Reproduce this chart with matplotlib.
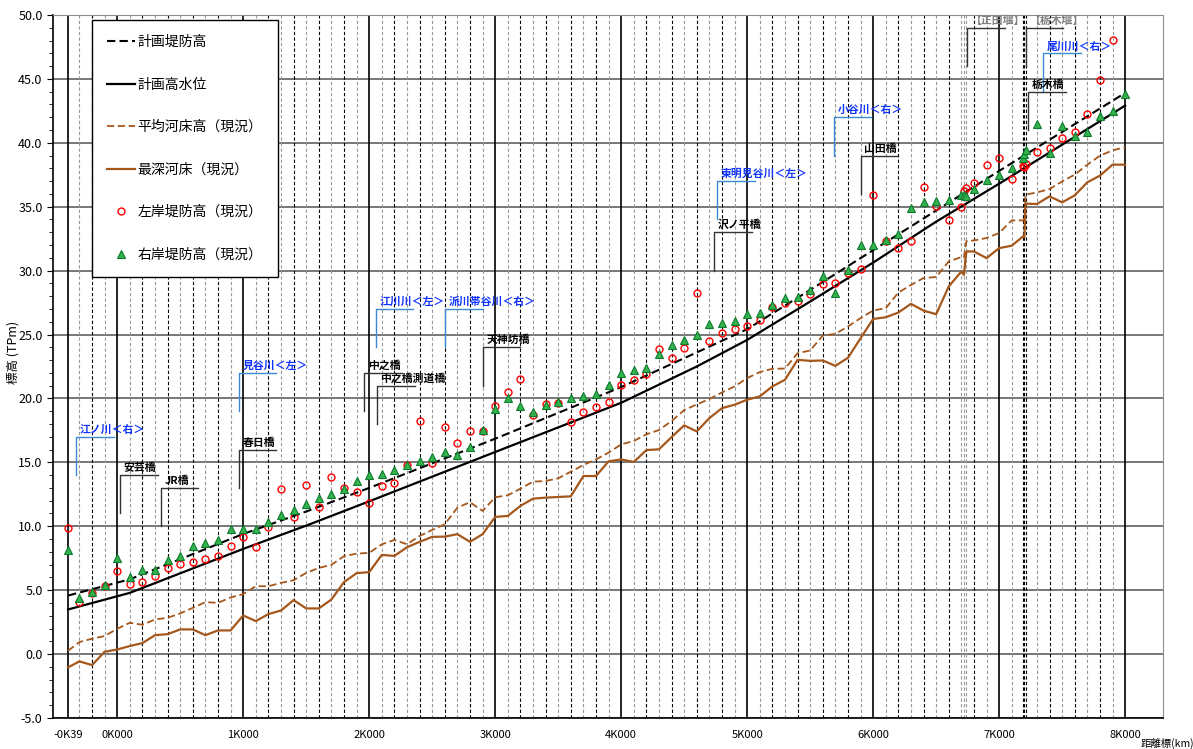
import numpy as np
import matplotlib.pyplot as plt

plt.rcParams['font.family'] = ['Noto Sans CJK JP', 'DejaVu Sans']

# cross-section distances (km)
dist = [-0.39, -0.3, -0.2, -0.1,
        0.0, 0.1, 0.2, 0.3, 0.4, 0.5, 0.6, 0.7, 0.8, 0.9,
        1.0, 1.1, 1.2, 1.3, 1.4, 1.5, 1.6, 1.7, 1.8, 1.9,
        2.0, 2.1, 2.2, 2.3, 2.4, 2.5, 2.6, 2.7, 2.8, 2.9,
        3.0, 3.1, 3.2, 3.3, 3.4, 3.5, 3.6, 3.7, 3.8, 3.9,
        4.0, 4.1, 4.2, 4.3, 4.4, 4.5, 4.6, 4.7, 4.8, 4.9,
        5.0, 5.1, 5.2, 5.3, 5.4, 5.5, 5.6, 5.7, 5.8, 5.9,
        6.0, 6.1, 6.2, 6.3, 6.4, 6.5, 6.6, 6.7, 6.72, 6.74, 6.8, 6.9,
        7.0, 7.1, 7.19, 7.2, 7.21, 7.3, 7.4, 7.5, 7.6, 7.7, 7.8, 7.9,
        8.0]

# 左岸堤防高（現況）
left_bank = [9.90, 4.11, 4.74, 5.29,
             6.48, 5.52, 5.63, 6.09, 6.74, 7.08, 7.21, 7.45, 7.68, 8.46,
             9.19, 8.36, 9.95, 12.92, 10.70, 13.23, 11.48, 13.83, 13.00, 12.68,
             11.80, 13.18, 13.39, 14.79, 18.26, 14.97, 17.79, 16.51, 17.47, 17.47,
             19.40, 20.49, 21.56, 18.67, 19.58, 19.66, 18.15, 18.96, 19.35, 19.69,
             21.09, 21.46, 21.90, 23.83, 23.13, 23.96, 28.28, 24.53, 25.10, 25.44,
             25.68, 26.17, 27.19, 27.45, 27.66, 28.18, 28.93, 29.06, 29.79, 30.16,
             35.91, 32.34, 31.74, 32.32, 36.55, 35.06, 33.96, 35.00, 36.20, 36.50, 36.85, 38.29,
             38.81, 37.17, 38.17, 38.12, 38.34, 39.28, 39.60, 40.38, 40.85, 42.28, 44.95, 48.08,
             np.nan]

# 右岸堤防高（現況）
right_bank = [8.15, 4.38, 4.87, 5.42,
              7.53, 6.04, 6.61, 6.56, 7.34, 7.71, 8.44, 8.67, 8.96, 9.82,
              9.82, 9.77, 10.34, 10.86, 11.30, 11.72, 12.19, 12.55, 12.92, 13.57,
              13.98, 14.11, 14.43, 14.77, 15.13, 15.42, 15.83, 15.57, 16.22, 17.50,
              19.14, 20.03, 19.40, 18.96, 19.48, 19.71, 20.00, 20.23, 20.36, 21.09,
              22.00, 22.24, 22.42, 23.49, 24.22, 24.56, 24.97, 25.83, 25.94, 26.07,
              26.61, 26.72, 27.34, 27.84, 27.97, 28.49, 29.58, 28.28, 30.05, 31.98,
              32.00, 32.40, 32.84, 34.92, 35.36, 35.47, 35.55, 35.89, 35.90, 35.85, 36.38, 37.06,
              37.51, 38.03, 38.80, 39.10, 39.40, 41.47, 39.20, 41.34, 40.51, 40.82, 42.08, 42.47,
              43.85]

# 平均河床高（現況）
mean_bed = [0.26, 0.94, 1.20, 1.41,
            1.98, 2.45, 2.29, 2.71, 2.84, 3.18, 3.62, 4.06, 4.01, 4.43,
            4.69, 5.31, 5.31, 5.57, 5.78, 6.35, 6.74, 6.98, 7.66, 7.86,
            7.92, 8.59, 8.93, 8.59, 9.24, 9.71, 10.16, 11.46, 11.88, 11.20,
            12.27, 12.42, 12.94, 13.49, 13.54, 13.75, 14.27, 14.79, 15.23, 15.76,
            16.41, 16.67, 17.19, 17.53, 18.23, 19.09, 19.53, 19.95, 20.47, 20.94,
            21.59, 22.06, 22.32, 22.34, 23.54, 23.75, 24.92, 25.05, 25.63, 26.28,
            26.88, 27.06, 28.28, 28.88, 29.42, 29.50, 30.72, 31.06, 31.00, 32.30, 32.36, 32.55,
            32.94, 33.93, 33.93, 34.00, 35.94, 36.12, 36.38, 36.98, 37.51, 38.29, 38.99, 39.41,
            39.65]

# 最深河床（現況）
deep_bed = [-1.04, -0.57, -0.86, 0.18,
            0.36, 0.63, 0.86, 1.48, 1.56, 1.93, 1.93, 1.48, 1.85, 1.85,
            3.02, 2.58, 3.13, 3.41, 4.22, 3.57, 3.57, 4.27, 5.63, 6.33,
            6.41, 7.76, 7.68, 8.36, 8.78, 9.17, 9.19, 9.38, 8.78, 9.38,
            10.73, 10.81, 11.59, 12.16, 12.24, 12.29, 12.34, 13.93, 13.93, 15.08,
            15.23, 15.03, 15.96, 16.02, 16.98, 17.89, 17.42, 18.46, 19.24, 19.51,
            19.90, 20.16, 20.94, 21.46, 23.02, 22.94, 22.97, 22.55, 23.18, 24.71,
            26.22, 26.35, 26.72, 27.40, 26.87, 26.59, 28.76, 29.93, 29.67, 31.50, 31.50, 30.98,
            31.76, 31.95, 32.68, 32.60, 35.24, 35.21, 35.81, 35.34, 35.89, 36.91, 37.43, 38.29,
            38.29]

# 計画高水位 / 計画堤防高 (break points)
plan_dist = [-0.39, 0.1, 1.0, 1.5, 2.0, 3.0, 4.0, 4.6, 5.0, 5.5, 6.0, 6.5, 7.0, 8.0]
plan_hwl = [3.49, 4.79, 8.23, 10.05, 11.95, 15.81, 19.66, 22.50, 24.58, 27.58, 30.63, 33.83, 36.80, 42.91]
plan_levee = [4.58, 5.85, 9.40, 11.15, 13.00, 16.85, 20.89, 23.60, 25.42, 28.49, 31.60, 34.70, 37.80, 43.90]

tick_pos = [-0.39, 0, 1, 2, 3, 4, 5, 6, 7, 8]
tick_txt = ['-0K39', '0K000', '1K000', '2K000', '3K000', '4K000',
            '5K000', '6K000', '7K000', '8K000']

# (distance, bottom of leader, label, kind)
notes = [
    (-0.325, 14.0, '江ノ川＜右＞', 'river'),
    (0.02, 11.0, '安芸橋', 'bridge'),
    (0.345, 10.0, 'JR橋', 'bridge'),
    (0.964, 13.0, '春日橋', 'bridge'),
    (0.964, 19.0, '見谷川＜左＞', 'river'),
    (1.96, 19.0, '中之橋', 'bridge'),
    (2.06, 18.0, '中之橋測道橋', 'bridge'),
    (2.05, 24.0, '江川川＜左＞', 'river'),
    (2.60, 24.0, '派川帯谷川＜右＞', 'river'),
    (2.90, 21.0, '天神坊橋', 'bridge'),
    (4.76, 34.0, '東明見谷川＜左＞', 'river'),
    (4.74, 30.0, '沢ノ平橋', 'bridge'),
    (5.686, 39.0, '小谷川＜右＞', 'river'),
    (5.90, 36.0, '山田橋', 'bridge'),
    (6.743, 46.0, '【正田堰】', 'weir'),
    (7.21, 46.0, '【栃木堰】', 'weir'),
    (7.35, 44.0, '尾川川＜右＞', 'river'),
    (7.23, 41.0, '栃木橋', 'bridge'),
]

brown = '#a5571c'

fig = plt.figure(figsize=(11.93, 7.49), dpi=100)
ax = fig.add_axes([0.0444, 0.0414, 0.9304, 0.9386])
ax.set_xlim(-0.51, 8.30)
ax.set_ylim(-5, 50)

# grid: grey levels every 5 m, cross-section lines every 100 m
for y in range(-5, 51, 5):
    ax.axhline(y, color='#777777', lw=1.4, zorder=1)
for x in dist:
    if x in tick_pos:
        continue
    odd = round(x * 10) % 2 == 1
    ax.axvline(x, color='#9a9a9a' if odd else 'black', lw=0.8, ls=(0, (3, 2)), zorder=1)
for x in tick_pos:
    ax.axvline(x, color='black', lw=1.2, zorder=1)

ax.plot(plan_dist, plan_levee, color='black', lw=1.5, ls=(0, (4, 2)), label='計画堤防高', zorder=3)
ax.plot(plan_dist, plan_hwl, color='black', lw=1.6, label='計画高水位', zorder=3)
ax.plot(dist, mean_bed, color=brown, lw=1.3, ls=(0, (4, 2)), label='平均河床高（現況）', zorder=3)
ax.plot(dist, deep_bed, color=brown, lw=1.6, label='最深河床（現況）', zorder=3)
ax.plot(dist, left_bank, ls='none', marker='o', ms=5, mfc='none', mec='#ff0000', mew=1.0,
        label='左岸堤防高（現況）', zorder=4)
ax.plot(dist, right_bank, ls='none', marker='^', ms=5.5, mfc='#33b34d', mec='#0e7a2e', mew=0.8,
        label='右岸堤防高（現況）', zorder=4)

# leader lines with labels
for x, y0, txt, kind in notes:
    y1 = y0 + 3.0
    if kind == 'river':
        lc, tc = '#3a8ad6', '#1133ff'
    elif kind == 'weir':
        lc, tc = '#333333', '#808080'
    else:
        lc, tc = '#333333', 'black'
    ax.plot([x, x, x + 0.3], [y0, y1, y1], color=lc, lw=1.0, zorder=5)
    ax.text(x + 0.03, y1 + 0.15, txt, color=tc, fontsize=7.8, fontweight='bold',
            ha='left', va='bottom', zorder=6)

ax.set_xticks(tick_pos)
ax.set_xticklabels(tick_txt, fontsize=8)
ax.tick_params(axis='x', length=0, pad=9)
ax.set_yticks(np.arange(-5, 51, 5))
ax.set_yticklabels([f'{v:.1f}' for v in np.arange(-5, 51, 5)], fontsize=9)
ax.set_yticks(np.arange(-5, 51, 1), minor=True)
ax.tick_params(axis='y', which='major', length=4, direction='out')
ax.tick_params(axis='y', which='minor', length=3, direction='out')

for s in ['top', 'right']:
    ax.spines[s].set_color('#8c8c8c')
for s in ['left', 'bottom']:
    ax.spines[s].set_color('black')
    ax.spines[s].set_linewidth(1.2)

ax.set_ylabel('標高 (TPm)', fontsize=9)
ax.yaxis.set_label_coords(-0.03, 0.52)
fig.text(0.9565, 0.0, '距離標(km)', fontsize=7.5, ha='left', va='bottom')

leg = ax.legend(loc='upper left', bbox_to_anchor=(0.035, 0.993), borderaxespad=0,
                fontsize=10, labelspacing=2.05, handlelength=2.0, handletextpad=0.2,
                borderpad=1.1, numpoints=1, fancybox=False, framealpha=1,
                edgecolor='black')
leg.get_frame().set_linewidth(1.0)
leg.set_zorder(10)

fig.savefig('out.png', dpi=100)
